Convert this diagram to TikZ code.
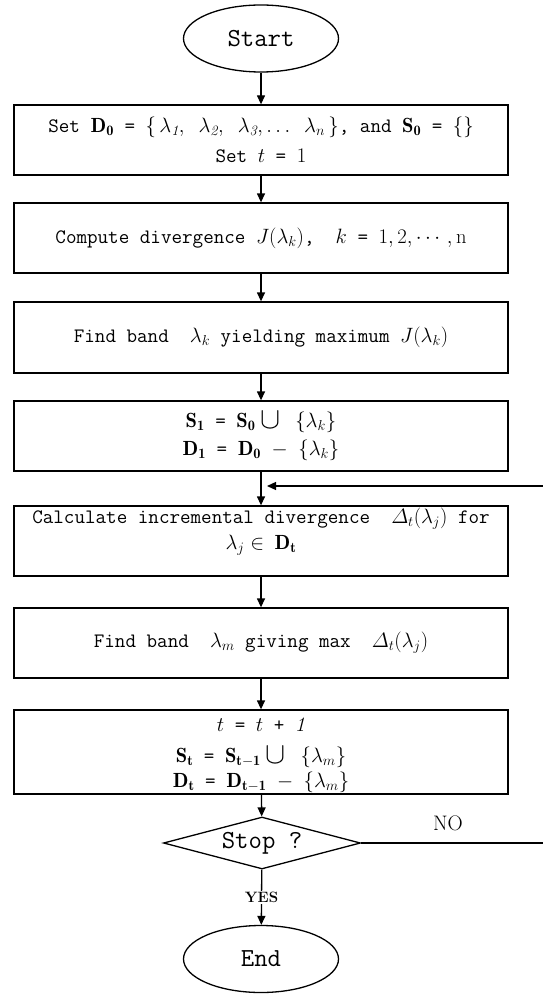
\documentclass[tikz,border=0pt]{standalone}
\usepackage{fontspec}
\usepackage{amsmath}
\usepackage{graphicx}
\usetikzlibrary{shapes.geometric,arrows.meta}
\newcommand{\bigun}{\mathbin{\raisebox{-0.1ex}{\scalebox{1.45}{$\cup$}}}}
\tikzset{
  base/.style={draw, line width=1.3pt, font=\ttfamily\fontsize{20.5}{27}\selectfont, align=center, inner sep=0pt},
  procbox/.style={base, rectangle, minimum width=494pt},
  txt/.style={font=\ttfamily\fontsize{20.5}{27}\selectfont, align=center, inner sep=0pt},
  term/.style={base, ellipse, minimum width=155pt, minimum height=67pt, font=\ttfamily\fontsize{26}{30}\selectfont},
  decide/.style={base, diamond, aspect=3.8, minimum width=197pt, minimum height=52pt, font=\ttfamily\fontsize{26}{30}\selectfont},
  conn/.style={line width=1.3pt, -{Triangle[length=9pt,width=8pt]}},
  lbl/.style={font=\rmfamily\fontsize{21}{23}\selectfont, inner sep=1pt}
}
\begin{document}
\begin{tikzpicture}[x=1pt,y=-1pt]
\useasboundingbox (0,0) rectangle (542,995);
\fill[white] (0,0) rectangle (542,995);
\node[term] (start) at (261,38.5) {Start};
\node[procbox, minimum height=70pt] (b1) at (261,140)
  {Set $\mathbf{D_0}$ = $\{\,\lambda_{\mathit{1}},\ \lambda_{\mathit{2}},\ \lambda_{\mathit{3}},\ldots\ \lambda_n\,\}$, and $\mathbf{S_0}$ = $\{\}$\\[3pt] Set $t$ = $1$};
\node[procbox, minimum height=70pt] (b2) at (261,238)
  {Compute divergence $J(\lambda_k)$,\ \ $k$ = $1,2,\cdots,\mathrm{n}$};
\node[procbox, minimum height=71pt] (b3) at (261,337.5)
  {Find band\ \ $\lambda_k$ yielding maximum $J(\lambda_k)$};
\node[procbox, minimum height=70pt] (b4) at (261,436)
  {$\mathbf{S_1}$ = $\mathbf{S_0}\bigun\ \{\lambda_k\}$\\[1pt] $\mathbf{D_1}$ = $\mathbf{D_0}$ $-$ $\{\lambda_k\}$};
\node[procbox, minimum height=70pt] (b5) at (261,541) {};
\node[txt] (b5t) at (261,532)
  {Calculate incremental divergence\ \ $\varDelta_t(\lambda_j)$ for\\[-1pt] $\lambda_j \in$ $\mathbf{D_t}$};
\node[procbox, minimum height=70pt] (b6) at (261,643)
  {Find band\ \ $\lambda_m$ giving max\ \ $\varDelta_t(\lambda_j)$};
\node[procbox, minimum height=84pt] (b7) at (261,752) {};
\node[txt] (b7t) at (261,755)
  {$t$ = $t$ + $\mathit{1}$\\[4pt] $\mathbf{S_t}$ = $\mathbf{S_{t-1}}\bigun\ \{\lambda_m\}$\\[-2pt] $\mathbf{D_t}$ = $\mathbf{D_{t-1}}$ $-$ $\{\lambda_m\}$};
\node[decide] (dec) at (262,843) {Stop ?};
\node[term] (end) at (261,959) {End};
\node[lbl] (no) at (448,823) {NO};
\coordinate (fb) at (267,486);
\coordinate (r1) at (548,843);
\coordinate (r2) at (548,486);
\draw[conn] (start) -- (b1);
\draw[conn] (b1) -- (b2);
\draw[conn] (b2) -- (b3);
\draw[conn] (b3) -- (b4);
\draw[conn] (b4) -- (b5);
\draw[conn] (b5) -- (b6);
\draw[conn] (b6) -- (b7);
\draw[conn] (b7) -- (dec);
\draw[conn] (dec) -- node[fill=white, font=\rmfamily\bfseries\fontsize{15}{16}\selectfont, inner sep=1pt] (yes) {YES} (end);
\draw[conn] (dec.east) -- (r1) -- (r2) -- (fb);
\end{tikzpicture}
\end{document}
